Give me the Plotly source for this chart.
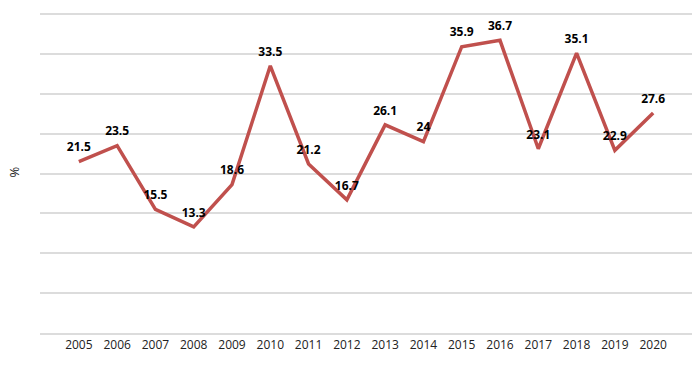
import plotly.graph_objects as go

years = ["2005", "2006", "2007", "2008", "2009", "2010", "2011", "2012",
         "2013", "2014", "2015", "2016", "2017", "2018", "2019", "2020"]
values = [21.5, 23.5, 15.5, 13.3, 18.6, 33.5, 21.2, 16.7,
          26.1, 24, 35.9, 36.7, 23.1, 35.1, 22.9, 27.6]
labels = ["21.5", "23.5", "15.5", "13.3", "18.6", "33.5", "21.2", "16.7",
          "26.1", "24", "35.9", "36.7", "23.1", "35.1", "22.9", "27.6"]

fig = go.Figure(go.Scatter(
    x=years, y=values, mode="lines+markers+text",
    line=dict(color="#C0504D", width=3.5),
    marker=dict(size=10, opacity=0, color="#C0504D"),
    text=labels, textposition="top center",
    textfont=dict(family="Open Sans", size=12, color="#000000", weight="bold"),
    cliponaxis=False,
))

fig.add_annotation(text="%", x=-27/652, xref="paper", y=0.5, yref="paper",
                   textangle=-90, showarrow=False, xanchor="center",
                   font=dict(size=13, color="#222222"))

fig.update_layout(
    width=700, height=368,
    margin=dict(l=40, r=8, t=12, b=35, autoexpand=False),
    paper_bgcolor="white", plot_bgcolor="white",
    showlegend=False,
    font=dict(family="Open Sans", size=12, color="#222222"),
    xaxis=dict(type="category", showgrid=False, showline=True, automargin=False,
               linecolor="#dcdcdc", linewidth=2, ticks="",
               tickfont=dict(size=12, color="#222222")),
    yaxis=dict(range=[0, 40.25], dtick=5, showticklabels=False, automargin=False,
               gridcolor="#dcdcdc", gridwidth=1.5, zeroline=False),
)

fig.write_html("out.html", config={"displayModeBar": False},
               post_script="document.body.style.margin='0';document.body.style.padding='0';")
